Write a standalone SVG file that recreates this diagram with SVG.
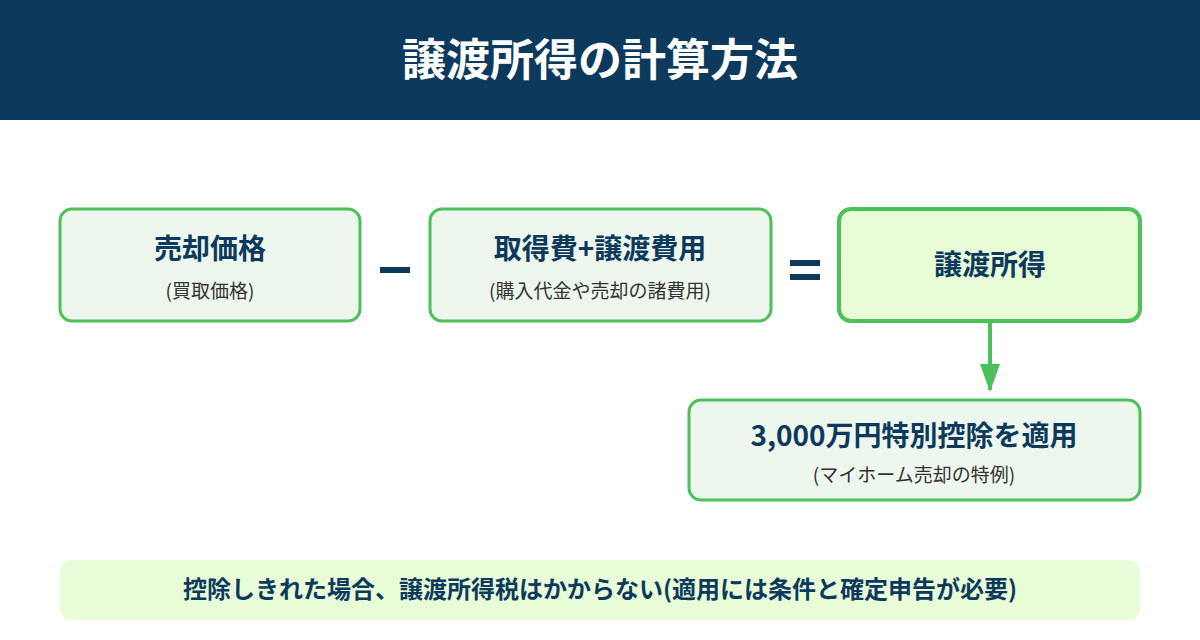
<svg xmlns="http://www.w3.org/2000/svg" width="1200" height="640" viewBox="0 0 1200 640">
<style>
text{font-family:"Noto Sans CJK JP","Noto Sans",sans-serif;text-anchor:middle}
.t{font-size:28px;font-weight:bold;fill:#0d3a5c}
.s{font-size:19px;fill:#333}
.box{fill:#eef7ee;stroke:#4cc05a;stroke-width:3}
.hl{fill:#e8fcd8;stroke:#4cc05a;stroke-width:4}
.op{fill:#0d3a5c}
</style>
<defs><marker id="ah" markerWidth="28" markerHeight="20" refX="26" refY="10" orient="auto" markerUnits="userSpaceOnUse"><path d="M0,0 L28,10 L0,20 Z" fill="#4cc05a"/></marker></defs>
<rect x="0" y="0" width="1200" height="120" fill="#0d3a5c"/>
<text x="600" y="76" style="font-size:44px;font-weight:bold;fill:#fff">譲渡所得の計算方法</text>
<g id="sale"><rect class="box" x="60" y="209" width="300" height="112" rx="12"/><text class="t" x="210" y="259">売却価格</text><text class="s" x="210" y="298">(買取価格)</text></g>
<rect class="op" x="380" y="267" width="30" height="6"/>
<g id="cost"><rect class="box" x="430" y="209" width="341" height="112" rx="12"/><text class="t" x="600" y="259">取得費+譲渡費用</text><text class="s" x="600" y="298">(購入代金や売却の諸費用)</text></g>
<rect class="op" x="790" y="260" width="30" height="6"/><rect class="op" x="790" y="274" width="30" height="6"/>
<g id="gain"><rect class="hl" x="839" y="209" width="301" height="112" rx="12"/><text class="t" x="990" y="275">譲渡所得</text></g>
<g id="connectors"><line x1="990" y1="321" x2="990" y2="390" stroke="#4cc05a" stroke-width="4" marker-end="url(#ah)"/></g>
<g id="special"><rect class="box" x="689" y="400" width="451" height="100" rx="12"/><text class="t" x="914" y="446">3,000万円特別控除を適用</text><text class="s" x="914" y="482">(マイホーム売却の特例)</text></g>
<g id="note"><rect x="60" y="560" width="1080" height="60" rx="12" fill="#e8fcd8"/><text x="600" y="598" style="font-size:24px;font-weight:bold;fill:#0d3a5c">控除しきれた場合、譲渡所得税はかからない(適用には条件と確定申告が必要)</text></g>
</svg>
